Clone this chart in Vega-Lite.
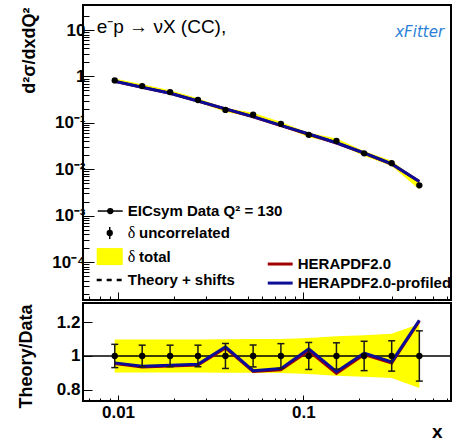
{
  "$schema": "https://vega.github.io/schema/vega-lite/v6.json",
  "autosize": {"type": "pad"},
  "padding": {"left": 16, "top": 4, "right": 0, "bottom": 0},
  "background": "white",
  "bounds": "flush",
  "spacing": 3,
  "config": {
    "font": "Liberation Sans",
    "view": {"stroke": "black", "strokeWidth": 2},
    "axis": {
      "domain": false, "grid": false, "labelOverlap": false,
      "tickColor": "black", "tickWidth": 1,
      "labelFont": "Liberation Sans", "labelFontWeight": "bold", "labelFontSize": 17, "labelColor": "black",
      "titleFont": "Liberation Sans", "titleFontWeight": "bold", "titleFontSize": 18, "titleColor": "black"
    }
  },
  "datasets": {
    "pts": [
      {"x": 0.0096, "sigma": 0.82,   "lo": 0.7396,  "hi": 0.9004,  "tb": 0.7864,  "tr": 0.7831,  "rb": 0.959, "rr": 0.955, "rd": 1, "elo": 0.931, "ehi": 1.069, "rlo": 0.902, "rhi": 1.098},
      {"x": 0.0135, "sigma": 0.62,   "lo": 0.5592,  "hi": 0.6808,  "tb": 0.5822,  "tr": 0.5797,  "rb": 0.939, "rr": 0.935, "rd": 1, "elo": 0.936, "ehi": 1.064, "rlo": 0.902, "rhi": 1.098},
      {"x": 0.0191, "sigma": 0.46,   "lo": 0.4149,  "hi": 0.5051,  "tb": 0.4347,  "tr": 0.4329,  "rb": 0.945, "rr": 0.941, "rd": 1, "elo": 0.936, "ehi": 1.064, "rlo": 0.902, "rhi": 1.098},
      {"x": 0.027,  "sigma": 0.31,   "lo": 0.2796,  "hi": 0.3404,  "tb": 0.2948,  "tr": 0.2933,  "rb": 0.951, "rr": 0.946, "rd": 1, "elo": 0.936, "ehi": 1.064, "rlo": 0.902, "rhi": 1.098},
      {"x": 0.038,  "sigma": 0.19,   "lo": 0.1712,  "hi": 0.2088,  "tb": 0.2003,  "tr": 0.1991,  "rb": 1.054, "rr": 1.048, "rd": 1, "elo": 0.926, "ehi": 1.074, "rlo": 0.901, "rhi": 1.099},
      {"x": 0.0536, "sigma": 0.149,  "lo": 0.1341,  "hi": 0.1639,  "tb": 0.136,   "tr": 0.1353,  "rb": 0.913, "rr": 0.908, "rd": 1, "elo": 0.935, "ehi": 1.065, "rlo": 0.9,   "rhi": 1.1},
      {"x": 0.0757, "sigma": 0.095,  "lo": 0.0854,  "hi": 0.1046,  "tb": 0.0879,  "tr": 0.0872,  "rb": 0.925, "rr": 0.918, "rd": 1, "elo": 0.927, "ehi": 1.073, "rlo": 0.899, "rhi": 1.101},
      {"x": 0.107,  "sigma": 0.055,  "lo": 0.0491,  "hi": 0.0609,  "tb": 0.0573,  "tr": 0.0567,  "rb": 1.042, "rr": 1.031, "rd": 1, "elo": 0.92,  "ehi": 1.08,  "rlo": 0.893, "rhi": 1.107},
      {"x": 0.151,  "sigma": 0.041,  "lo": 0.0362,  "hi": 0.0458,  "tb": 0.0372,  "tr": 0.0368,  "rb": 0.907, "rr": 0.897, "rd": 1, "elo": 0.922, "ehi": 1.078, "rlo": 0.883, "rhi": 1.117},
      {"x": 0.213,  "sigma": 0.022,  "lo": 0.0193,  "hi": 0.0247,  "tb": 0.02237, "tr": 0.02218, "rb": 1.017, "rr": 1.008, "rd": 1, "elo": 0.913, "ehi": 1.087, "rlo": 0.877, "rhi": 1.123},
      {"x": 0.3,    "sigma": 0.0135, "lo": 0.01173, "hi": 0.01527, "tb": 0.01303, "tr": 0.01293, "rb": 0.965, "rr": 0.958, "rd": 1, "elo": 0.91,  "ehi": 1.09,  "rlo": 0.869, "rhi": 1.131},
      {"x": 0.423,  "sigma": 0.0045, "lo": 0.003645,"hi": 0.005355,"tb": 0.005454,"tr": 0.005436,"rb": 1.212, "rr": 1.208, "rd": 1, "elo": 0.851, "ehi": 1.149, "rlo": 0.81,  "rhi": 1.19}
    ]
  },
  "vconcat": [
    {
      "width": 368,
      "height": 295,
      "data": {"name": "pts"},
      "layer": [
        {
          "mark": {"type": "area", "color": "#ffff00", "opacity": 1},
          "encoding": {
            "x": {
              "field": "x", "type": "quantitative",
              "scale": {"type": "log", "domain": [0.00647, 0.627], "nice": false},
              "axis": {
                "title": null, "labels": false,
                "values": [0.007, 0.008, 0.009, 0.01, 0.02, 0.03, 0.04, 0.05, 0.06, 0.07, 0.08, 0.09, 0.1, 0.2, 0.3, 0.4, 0.5, 0.6],
                "tickSize": {"condition": {"test": "datum.value == 0.01 || datum.value == 0.1", "value": -8}, "value": -4}
              }
            },
            "y": {
              "field": "lo", "type": "quantitative",
              "scale": {"type": "log", "domain": [1.52e-5, 34.6], "nice": false},
              "axis": {
                "title": "d²σ/dxdQ²",
                "titleAnchor": "end", "titleX": -54, "titleY": 2, "titleAlign": "right", "titleBaseline": "middle", "titleAngle": 270,
                "values": [2e-5, 3e-5, 4e-5, 5e-5, 6e-5, 7e-5, 8e-5, 9e-5,
                           0.0001, 0.0002, 0.0003, 0.0004, 0.0005, 0.0006, 0.0007, 0.0008, 0.0009,
                           0.001, 0.002, 0.003, 0.004, 0.005, 0.006, 0.007, 0.008, 0.009,
                           0.01, 0.02, 0.03, 0.04, 0.05, 0.06, 0.07, 0.08, 0.09,
                           0.1, 0.2, 0.3, 0.4, 0.5, 0.6, 0.7, 0.8, 0.9,
                           1, 2, 3, 4, 5, 6, 7, 8, 9, 10, 20],
                "labelOverlap": false,
                "labelExpr": "datum.value == 10 ? '10' : datum.value == 1 ? '1' : datum.value == 0.1 ? '10⁻¹' : datum.value == 0.01 ? '10⁻²' : datum.value == 0.001 ? '10⁻³' : datum.value == 0.0001 ? '10⁻⁴' : ''",
                "labelPadding": 9,
                "tickSize": {"condition": {"test": "indexof([10, 1, 0.1, 0.01, 0.001, 0.0001], datum.value) >= 0", "value": -11}, "value": -6}
              }
            },
            "y2": {"field": "hi"}
          }
        },
        {
          "mark": {"type": "line", "color": "#a00000", "strokeWidth": 3},
          "encoding": {
            "x": {"field": "x", "type": "quantitative"},
            "y": {"field": "tr", "type": "quantitative"}
          }
        },
        {
          "mark": {"type": "line", "color": "#0c0c96", "strokeWidth": 3},
          "encoding": {
            "x": {"field": "x", "type": "quantitative"},
            "y": {"field": "tb", "type": "quantitative"}
          }
        },
        {
          "mark": {"type": "point", "shape": "circle", "filled": true, "color": "black", "opacity": 1, "size": 40},
          "encoding": {
            "x": {"field": "x", "type": "quantitative"},
            "y": {"field": "sigma", "type": "quantitative"}
          }
        },
        {
          "data": {"values": [{}]},
          "mark": {"type": "text", "align": "left", "baseline": "middle", "fontSize": 19, "font": "Liberation Sans", "color": "black"},
          "encoding": {
            "x": {"datum": 0.00767, "type": "quantitative"},
            "y": {"datum": 11.6, "type": "quantitative"},
            "text": {"value": "e⁻p → νX (CC),"}
          }
        },
        {
          "data": {"values": [{}]},
          "mark": {"type": "text", "align": "center", "baseline": "middle", "fontSize": 15, "font": "DejaVu Sans", "fontStyle": "italic", "color": "#2b7fd6"},
          "encoding": {
            "x": {"datum": 0.4247, "type": "quantitative"},
            "y": {"datum": 9.06, "type": "quantitative"},
            "text": {"value": "xFitter"}
          }
        },
        {
          "data": {"values": [{}]},
          "mark": {"type": "rule", "color": "black", "strokeWidth": 1.5},
          "encoding": {
            "x": {"datum": 0.00777, "type": "quantitative"},
            "x2": {"datum": 0.0106},
            "y": {"datum": 0.001256, "type": "quantitative"}
          }
        },
        {
          "data": {"values": [{}]},
          "mark": {"type": "point", "shape": "circle", "filled": true, "color": "black", "opacity": 1, "size": 40},
          "encoding": {
            "x": {"datum": 0.00908, "type": "quantitative"},
            "y": {"datum": 0.001256, "type": "quantitative"}
          }
        },
        {
          "data": {"values": [{}]},
          "mark": {"type": "text", "align": "left", "baseline": "middle", "fontSize": 15, "fontWeight": "bold", "color": "black"},
          "encoding": {
            "x": {"datum": 0.01128, "type": "quantitative"},
            "y": {"datum": 0.001256, "type": "quantitative"},
            "text": {"value": "EICsym Data Q² = 130"}
          }
        },
        {
          "data": {"values": [{}]},
          "mark": {"type": "rule", "color": "black", "strokeWidth": 1.5},
          "encoding": {
            "x": {"datum": 0.00902, "type": "quantitative"},
            "y": {"datum": 0.000313, "type": "quantitative"},
            "y2": {"datum": 0.000568}
          }
        },
        {
          "data": {"values": [{}]},
          "mark": {"type": "point", "shape": "circle", "filled": true, "color": "black", "opacity": 1, "size": 40},
          "encoding": {
            "x": {"datum": 0.00902, "type": "quantitative"},
            "y": {"datum": 0.000422, "type": "quantitative"}
          }
        },
        {
          "data": {"values": [{}]},
          "mark": {"type": "text", "align": "left", "baseline": "middle", "fontSize": 16, "font": "Liberation Serif", "color": "black"},
          "encoding": {
            "x": {"datum": 0.01128, "type": "quantitative"},
            "y": {"datum": 0.000422, "type": "quantitative"},
            "text": {"value": "δ"}
          }
        },
        {
          "data": {"values": [{}]},
          "mark": {"type": "text", "align": "left", "baseline": "middle", "fontSize": 15, "fontWeight": "bold", "color": "black"},
          "encoding": {
            "x": {"datum": 0.01298, "type": "quantitative"},
            "y": {"datum": 0.000422, "type": "quantitative"},
            "text": {"value": "uncorrelated"}
          }
        },
        {
          "data": {"values": [{}]},
          "mark": {"type": "rect", "color": "#ffff00", "opacity": 1},
          "encoding": {
            "x": {"datum": 0.00767, "type": "quantitative"},
            "x2": {"datum": 0.0106},
            "y": {"datum": 0.000086, "type": "quantitative"},
            "y2": {"datum": 0.0002}
          }
        },
        {
          "data": {"values": [{}]},
          "mark": {"type": "text", "align": "left", "baseline": "middle", "fontSize": 16, "font": "Liberation Serif", "color": "black"},
          "encoding": {
            "x": {"datum": 0.01128, "type": "quantitative"},
            "y": {"datum": 0.000128, "type": "quantitative"},
            "text": {"value": "δ"}
          }
        },
        {
          "data": {"values": [{}]},
          "mark": {"type": "text", "align": "left", "baseline": "middle", "fontSize": 15, "fontWeight": "bold", "color": "black"},
          "encoding": {
            "x": {"datum": 0.01298, "type": "quantitative"},
            "y": {"datum": 0.000128, "type": "quantitative"},
            "text": {"value": "total"}
          }
        },
        {
          "data": {"values": [{}]},
          "mark": {"type": "rule", "color": "black", "strokeWidth": 2.5, "strokeDash": [5, 5]},
          "encoding": {
            "x": {"datum": 0.00767, "type": "quantitative"},
            "x2": {"datum": 0.0106},
            "y": {"datum": 0.0000409, "type": "quantitative"}
          }
        },
        {
          "data": {"values": [{}]},
          "mark": {"type": "text", "align": "left", "baseline": "middle", "fontSize": 15, "fontWeight": "bold", "color": "black"},
          "encoding": {
            "x": {"datum": 0.01128, "type": "quantitative"},
            "y": {"datum": 0.0000409, "type": "quantitative"},
            "text": {"value": "Theory + shifts"}
          }
        },
        {
          "data": {"values": [{}]},
          "mark": {"type": "rule", "color": "#a00000", "strokeWidth": 3},
          "encoding": {
            "x": {"datum": 0.0643, "type": "quantitative"},
            "x2": {"datum": 0.0876},
            "y": {"datum": 0.0000906, "type": "quantitative"}
          }
        },
        {
          "data": {"values": [{}]},
          "mark": {"type": "text", "align": "left", "baseline": "middle", "fontSize": 15, "fontWeight": "bold", "color": "black"},
          "encoding": {
            "x": {"datum": 0.0933, "type": "quantitative"},
            "y": {"datum": 0.0000906, "type": "quantitative"},
            "text": {"value": "HERAPDF2.0"}
          }
        },
        {
          "data": {"values": [{}]},
          "mark": {"type": "rule", "color": "#0c0c96", "strokeWidth": 3},
          "encoding": {
            "x": {"datum": 0.0643, "type": "quantitative"},
            "x2": {"datum": 0.0876},
            "y": {"datum": 0.0000352, "type": "quantitative"}
          }
        },
        {
          "data": {"values": [{}]},
          "mark": {"type": "text", "align": "left", "baseline": "middle", "fontSize": 15, "fontWeight": "bold", "color": "black"},
          "encoding": {
            "x": {"datum": 0.0933, "type": "quantitative"},
            "y": {"datum": 0.0000352, "type": "quantitative"},
            "text": {"value": "HERAPDF2.0-profiled"}
          }
        }
      ]
    },
    {
      "width": 368,
      "height": 98,
      "data": {"name": "pts"},
      "layer": [
        {
          "mark": {"type": "area", "color": "#ffff00", "opacity": 1},
          "encoding": {
            "x": {
              "field": "x", "type": "quantitative",
              "scale": {"type": "log", "domain": [0.00647, 0.627], "nice": false},
              "axis": {
                "title": "x",
                "titleFontSize": 19,
                "titleX": 359, "titleY": 30, "titleAlign": "right", "titleBaseline": "middle", "titleAnchor": "end",
                "values": [0.007, 0.008, 0.009, 0.01, 0.02, 0.03, 0.04, 0.05, 0.06, 0.07, 0.08, 0.09, 0.1, 0.2, 0.3, 0.4, 0.5, 0.6],
                "labelOverlap": false,
                "labelExpr": "datum.value == 0.01 ? '0.01' : datum.value == 0.1 ? '0.1' : ''",
                "labelPadding": 9,
                "tickSize": {"condition": {"test": "datum.value == 0.01 || datum.value == 0.1", "value": -6}, "value": -3}
              }
            },
            "y": {
              "field": "rlo", "type": "quantitative",
              "scale": {"domain": [0.733, 1.314], "nice": false, "zero": false},
              "axis": {
                "title": "Theory/Data",
                "titleAnchor": "end", "titleX": -57, "titleY": 1, "titleAlign": "right", "titleBaseline": "middle", "titleAngle": 270,
                "values": [0.8, 1, 1.2],
                "format": "~g",
                "labelOverlap": false,
                "labelPadding": 12,
                "tickSize": -9
              }
            },
            "y2": {"field": "rhi"}
          }
        },
        {
          "data": {"values": [{}]},
          "mark": {"type": "rule", "color": "black", "strokeWidth": 1.5},
          "encoding": {
            "y": {"datum": 1, "type": "quantitative"}
          }
        },
        {
          "mark": {"type": "line", "color": "#a00000", "strokeWidth": 3},
          "encoding": {
            "x": {"field": "x", "type": "quantitative"},
            "y": {"field": "rr", "type": "quantitative"}
          }
        },
        {
          "mark": {"type": "line", "color": "#0c0c96", "strokeWidth": 3},
          "encoding": {
            "x": {"field": "x", "type": "quantitative"},
            "y": {"field": "rb", "type": "quantitative"}
          }
        },
        {
          "mark": {"type": "rule", "color": "#1a1a1a", "strokeWidth": 1.5},
          "encoding": {
            "x": {"field": "x", "type": "quantitative"},
            "y": {"field": "elo", "type": "quantitative"},
            "y2": {"field": "ehi"}
          }
        },
        {
          "mark": {"type": "tick", "orient": "horizontal", "color": "#1a1a1a", "size": 7, "thickness": 1.5, "opacity": 1},
          "encoding": {
            "x": {"field": "x", "type": "quantitative"},
            "y": {"field": "elo", "type": "quantitative"}
          }
        },
        {
          "mark": {"type": "tick", "orient": "horizontal", "color": "#1a1a1a", "size": 7, "thickness": 1.5, "opacity": 1},
          "encoding": {
            "x": {"field": "x", "type": "quantitative"},
            "y": {"field": "ehi", "type": "quantitative"}
          }
        },
        {
          "mark": {"type": "point", "shape": "circle", "filled": true, "color": "black", "opacity": 1, "size": 40},
          "encoding": {
            "x": {"field": "x", "type": "quantitative"},
            "y": {"field": "rd", "type": "quantitative"}
          }
        }
      ]
    }
  ]
}
